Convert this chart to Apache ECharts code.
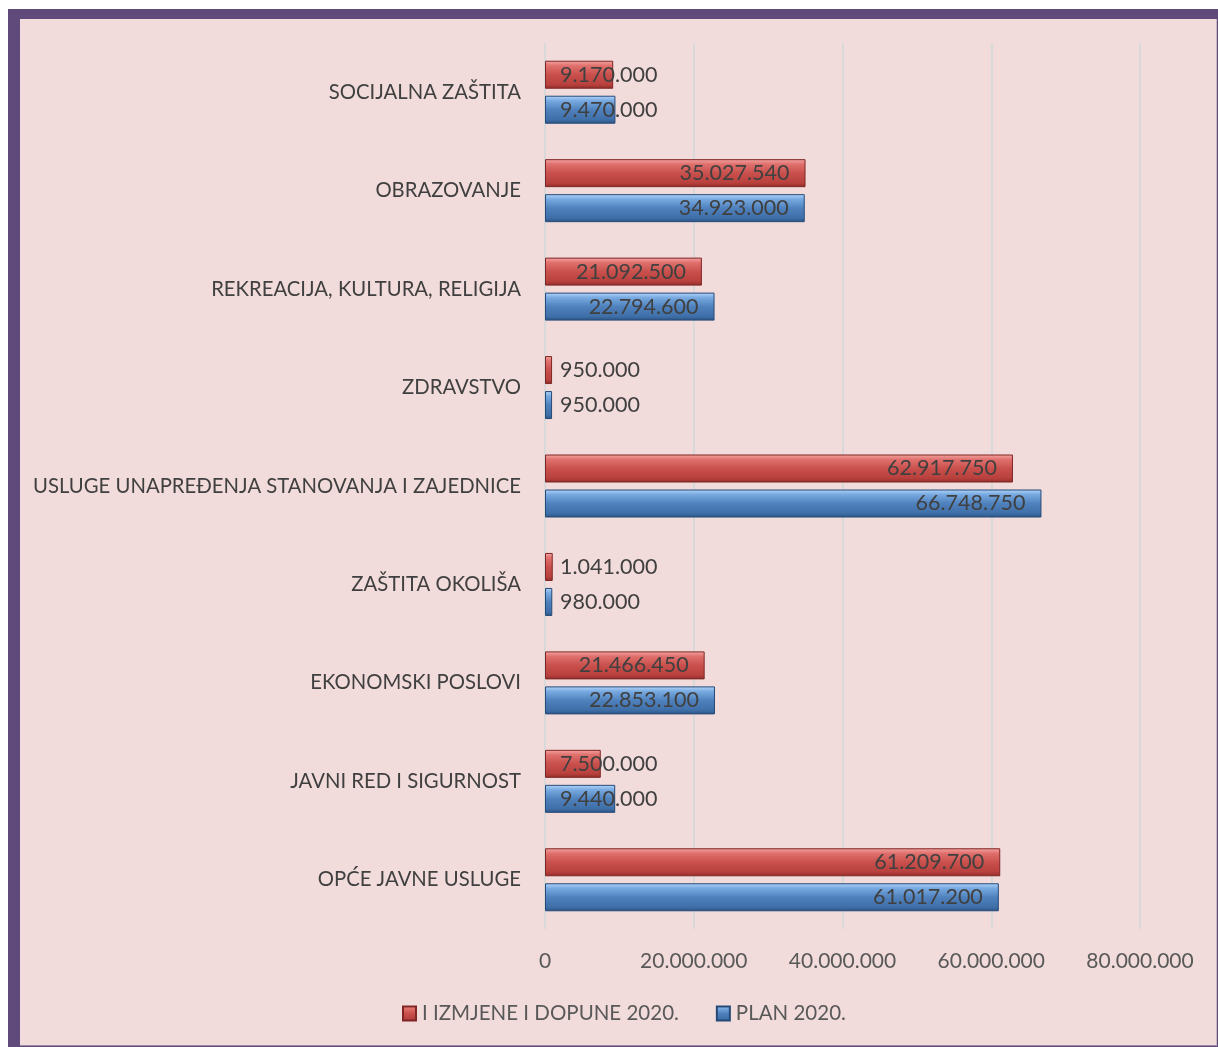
<!DOCTYPE html>
<html><head><meta charset="utf-8">
<script src="https://cdn.jsdelivr.net/npm/echarts@6/dist/echarts.min.js"></script>
<style>
html,body{margin:0;padding:0;background:#fff;width:1218px;height:1047px;overflow:hidden;}
#frame{position:absolute;left:8px;top:9px;width:1210px;height:1038px;background:#604A7B;}
#inner{position:absolute;left:20px;top:19px;width:1196px;height:1026px;background:#F2DCDB;border-right:1px solid #C9B6C4;border-bottom:1px solid #9C8AA8;}
#chart{position:absolute;left:0;top:0;width:1218px;height:1047px;}
</style></head>
<body>
<div id="frame"></div><div id="inner"></div>
<div id="chart"></div>
<script>
const categories = ["SOCIJALNA ZAŠTITA","OBRAZOVANJE","REKREACIJA, KULTURA, RELIGIJA","ZDRAVSTVO","USLUGE UNAPREĐENJA STANOVANJA I ZAJEDNICE","ZAŠTITA OKOLIŠA","EKONOMSKI POSLOVI","JAVNI RED I SIGURNOST","OPĆE JAVNE USLUGE"];
const izmjene = [9170000,35027540,21092500,950000,62917750,1041000,21466450,7500000,61209700];
const plan = [9470000,34923000,22794600,950000,66748750,980000,22853100,9440000,61017200];
const seriesNames = ["I IZMJENE I DOPUNE 2020.","PLAN 2020."];
const xTicks = [0,20000000,40000000,60000000,80000000];

function fmt(v){return String(Math.round(v)).replace(/\B(?=(\d{3})+(?!\d))/g,'.');}
const FONT = 'Lato';
function items(arr){
  return arr.map(v=>{
    const small = v < 15000000;
    return {value:v,label:small?{position:'insideLeft',distance:15}:{position:'insideRight',distance:16}};
  });
}
const redGrad = new echarts.graphic.LinearGradient(0,0,0,1,[
  {offset:0,color:'#F4A6A4'},{offset:0.18,color:'#E0706D'},{offset:0.5,color:'#C9504C'},{offset:0.85,color:'#B8403D'},{offset:1,color:'#8E2C2A'}]);
const blueGrad = new echarts.graphic.LinearGradient(0,0,0,1,[
  {offset:0,color:'#B3D6FA'},{offset:0.18,color:'#78A9E0'},{offset:0.5,color:'#4F81BD'},{offset:0.85,color:'#3F6FA8'},{offset:1,color:'#2B5282'}]);
const chart = echarts.init(document.getElementById('chart'));
chart.setOption({
  animation:false,
  backgroundColor:'transparent',
  textStyle:{fontFamily:FONT},
  grid:{left:545,right:78,top:43,bottom:118,containLabel:false},
  legend:{
    bottom:18,left:397,itemWidth:13,itemHeight:14,itemGap:37,
    textStyle:{fontFamily:FONT,fontSize:20.5,color:'#595959',padding:[0,0,0,1]},
    data:[{name:seriesNames[0],icon:'rect'},{name:seriesNames[1],icon:'rect'}]
  },
  xAxis:{
    type:'value',min:0,max:80000000,interval:20000000,
    axisLine:{show:false},axisTick:{show:false},
    splitLine:{show:true,lineStyle:{color:'#D9D9D9',width:2}},
    axisLabel:{fontFamily:FONT,fontSize:21,color:'#595959',margin:22,formatter:v=>xTicks.indexOf(v)>=0?fmt(v):''}
  },
  yAxis:{
    type:'category',data:categories,inverse:true,
    axisLine:{show:false},axisTick:{show:false},
    axisLabel:{fontFamily:FONT,fontSize:20.3,color:'#404040',margin:24}
  },
  series:[
    {name:seriesNames[0],type:'bar',data:items(izmjene),barWidth:28,barGap:'25%',
     itemStyle:{color:redGrad,borderColor:'#7F2624',borderWidth:1},
     label:{show:true,formatter:p=>fmt(p.value),fontFamily:FONT,fontSize:21.5,color:'#404040'}},
    {name:seriesNames[1],type:'bar',data:items(plan),barWidth:28,barGap:'25%',
     itemStyle:{color:blueGrad,borderColor:'#254A78',borderWidth:1},
     label:{show:true,formatter:p=>fmt(p.value),fontFamily:FONT,fontSize:21.5,color:'#404040'}}
  ]
});
</script>
</body></html>
